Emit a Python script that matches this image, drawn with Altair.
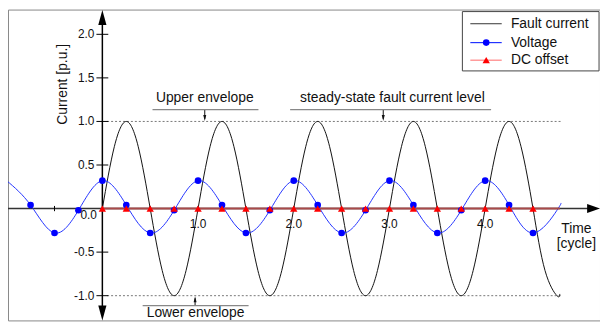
import altair as alt
import pandas as pd

# ---------------- data ----------------
series_names = ["Fault current", "Voltage", "DC offset"]

fault_t = [0.0, 0.125, 0.25, 0.375, 0.5, 0.625, 0.75, 0.875,
           1.0, 1.125, 1.25, 1.375, 1.5, 1.625, 1.75, 1.875,
           2.0, 2.125, 2.25, 2.375, 2.5, 2.625, 2.75, 2.875,
           3.0, 3.125, 3.25, 3.375, 3.5, 3.625, 3.75, 3.875,
           4.0, 4.125, 4.25, 4.375, 4.5, 4.625, 4.75, 4.78]
fault_v = [0, 0.71, 1, 0.71, 0, -0.71, -1, -0.71,
           0, 0.71, 1, 0.71, 0, -0.71, -1, -0.71,
           0, 0.71, 1, 0.71, 0, -0.71, -1, -0.71,
           0, 0.71, 1, 0.71, 0, -0.71, -1, -0.71,
           0, 0.71, 1, 0.71, 0, -0.71, -1, -0.98]

volt_t = [-1.0, -0.75, -0.5, -0.25, 0.0, 0.25, 0.5, 0.75, 1.0, 1.25, 1.5, 1.75,
          2.0, 2.25, 2.5, 2.75, 3.0, 3.25, 3.5, 3.75, 4.0, 4.25, 4.5, 4.75, 4.79]
volt_v = [0.32, 0.04, -0.28, -0.02, 0.32, 0.04, -0.28, -0.02, 0.32, 0.04, -0.28, -0.02,
          0.32, 0.04, -0.28, -0.02, 0.32, 0.04, -0.28, -0.02, 0.32, 0.04, -0.28, -0.02, 0.06]
volt_marker_t = [-0.75, -0.5, -0.25, 0.0, 0.25, 0.5, 0.75, 1.0, 1.25, 1.5, 1.75, 2.0,
                 2.25, 2.5, 2.75, 3.0, 3.25, 3.5, 3.75, 4.0, 4.25, 4.5]

dc_t = [0.0, 0.25, 0.5, 0.75, 1.0, 1.25, 1.5, 1.75, 2.0, 2.25, 2.5, 2.75,
        3.0, 3.25, 3.5, 3.75, 4.0, 4.25, 4.5]
dc_v = [0.0] * len(dc_t)
dc_line_t = [0.0, 4.78]
dc_line_v = [0.0, 0.0]

y_tick_values = [-1.0, -0.5, 0.5, 1.0, 1.5, 2.0]
y_tick_labels = ["-1.0", "-0.5", "0.5", "1.0", "1.5", "2.0"]
x_tick_values = [1.0, 2.0, 3.0, 4.0]
x_tick_labels = ["1.0", "2.0", "3.0", "4.0"]
x_zero_label = "0.0"
x_minor_ticks = [-0.5, 0.5, 1.0, 1.5, 2.0, 2.5, 3.0, 3.5, 4.0, 4.5]
envelope_levels = [1.0, -1.0]
annotation_labels = ["Upper envelope", "steady-state fault current level", "Lower envelope"]
x_title = ["Time", "[cycle]"]
y_title = "Current [p.u.]"

# ---------------- layout (data units) ----------------
X_MIN, X_MAX = -0.986, 5.2
Y_MIN, Y_MAX = -1.284, 2.284
FONT = "Liberation Sans"

xs = alt.Scale(domain=[X_MIN, X_MAX], nice=False, zero=False)
ys = alt.Scale(domain=[Y_MIN, Y_MAX], nice=False, zero=False)


def X(f="t"):
    return alt.X(f"{f}:Q", scale=xs, axis=None)


def Y(f="v"):
    return alt.Y(f"{f}:Q", scale=ys, axis=None)


layers = []

# dashed envelope lines
env = pd.DataFrame({"t": [0.05, 0.05], "t2": [4.796, 4.796], "v": envelope_levels})
layers.append(alt.Chart(env).mark_rule(color="#777", strokeWidth=1, strokeDash=[2, 2]).encode(
    x=X(), x2="t2:Q", y=Y()))

# axis lines
xa = pd.DataFrame({"t": [X_MIN], "t2": [5.1], "v": [0.0]})
layers.append(alt.Chart(xa).mark_rule(color="#333", strokeWidth=1.5).encode(x=X(), x2="t2:Q", y=Y()))
ya = pd.DataFrame({"t": [0.0], "v": [-1.17], "v2": [2.17]})
layers.append(alt.Chart(ya).mark_rule(color="#000", strokeWidth=1.5).encode(x=X(), y=Y(), y2="v2:Q"))

# axis arrowheads
arr_up = pd.DataFrame({"t": [0.0], "v": [2.193]})
layers.append(alt.Chart(arr_up).mark_point(shape="M0,-1L0.55,1L-0.55,1Z", filled=True, size=225,
                                           color="black", opacity=1).encode(x=X(), y=Y()))
arr_dn = pd.DataFrame({"t": [0.0], "v": [-1.199]})
layers.append(alt.Chart(arr_dn).mark_point(shape="M0,1L0.55,-1L-0.55,-1Z", filled=True, size=225,
                                           color="black", opacity=1).encode(x=X(), y=Y()))
arr_rt = pd.DataFrame({"t": [5.133], "v": [0.0]})
layers.append(alt.Chart(arr_rt).mark_point(shape="M1,0L-1,0.7L-1,-0.7Z", filled=True, size=169,
                                           color="black", opacity=1).encode(x=X(), y=Y()))

# y ticks
yt = pd.DataFrame({"t": [-0.062] * len(y_tick_values), "t2": [0.062] * len(y_tick_values),
                   "v": y_tick_values})
layers.append(alt.Chart(yt).mark_rule(color="black", strokeWidth=1).encode(x=X(), x2="t2:Q", y=Y()))
# x minor ticks
xt = pd.DataFrame({"t": x_minor_ticks, "v": [-0.03] * len(x_minor_ticks), "v2": [0.03] * len(x_minor_ticks)})
layers.append(alt.Chart(xt).mark_rule(color="black", strokeWidth=1).encode(x=X(), y=Y(), y2="v2:Q"))

# curves
fdf = pd.DataFrame({"t": fault_t, "v": fault_v})
layers.append(alt.Chart(fdf).mark_line(interpolate="natural", color="#111", strokeWidth=1, clip=True).encode(
    x=X(), y=Y()))
vdf = pd.DataFrame({"t": volt_t, "v": volt_v})
layers.append(alt.Chart(vdf).mark_line(interpolate="natural", color="#2233ff", strokeWidth=1, clip=True).encode(
    x=X(), y=Y()))
dldf = pd.DataFrame({"t": dc_line_t, "v": dc_line_v})
layers.append(alt.Chart(dldf).mark_line(color="#a84a4a", opacity=1, strokeWidth=2).encode(x=X(), y=Y()))

# markers
vm = vdf[vdf["t"].isin(volt_marker_t)]
layers.append(alt.Chart(vm).mark_circle(color="#0000ff", size=45, opacity=1).encode(x=X(), y=Y()))
dcdf = pd.DataFrame({"t": dc_t, "v": dc_v})
layers.append(alt.Chart(dcdf).mark_point(shape="triangle-up", filled=True, color="#ff0000", size=55,
                                         opacity=1).encode(x=X(), y=Y()))

# tick labels
layers.append(alt.Chart(pd.DataFrame({"t": [0.0] * len(y_tick_values), "v": y_tick_values,
                                      "label": y_tick_labels})).mark_text(
    font=FONT, fontSize=12, align="right", baseline="middle", dx=-8, color="#111").encode(
    x=X(), y=Y(), text="label:N"))
layers.append(alt.Chart(pd.DataFrame({"t": x_tick_values, "v": [-0.182] * len(x_tick_values),
                                      "label": x_tick_labels})).mark_text(
    font=FONT, fontSize=12, align="center", baseline="middle", color="#111").encode(
    x=X(), y=Y(), text="label:N"))
layers.append(alt.Chart(pd.DataFrame({"t": [-0.143], "v": [-0.08], "label": [x_zero_label]})).mark_text(
    font=FONT, fontSize=12, align="center", baseline="middle", color="#111").encode(
    x=X(), y=Y(), text="label:N"))

# axis titles
layers.append(alt.Chart(pd.DataFrame({"t": [4.953, 4.953], "v": [-0.276, -0.458], "label": x_title})).mark_text(
    font=FONT, fontSize=14, align="center", baseline="alphabetic", color="#111").encode(
    x=X(), y=Y(), text="label:N"))
layers.append(alt.Chart(pd.DataFrame({"t": [-0.365], "v": [1.426], "label": [y_title]})).mark_text(
    font=FONT, fontSize=14, align="center", baseline="alphabetic", angle=270, color="#111").encode(
    x=X(), y=Y(), text="label:N"))

# annotations
ann = pd.DataFrame({"t": [1.07, 3.031, 0.974], "v": [1.219, 1.219, -1.25], "label": annotation_labels})
layers.append(alt.Chart(ann).mark_text(font=FONT, fontSize=14, align="center", baseline="alphabetic",
                                       color="#111").encode(x=X(), y=Y(), text="label:N"))
und = pd.DataFrame({"t": [0.524, 1.962, 0.421], "t2": [1.631, 4.062, 1.528], "v": [1.136, 1.136, -1.114]})
layers.append(alt.Chart(und).mark_rule(color="#888", strokeWidth=1.2).encode(x=X(), x2="t2:Q", y=Y()))
ast = pd.DataFrame({"t": [1.07, 2.935, 0.969], "v": [1.13, 1.13, -1.108], "v2": [1.03, 1.03, -1.03]})
layers.append(alt.Chart(ast).mark_rule(color="#111", strokeWidth=1).encode(x=X(), y=Y(), y2="v2:Q"))
ahd = pd.DataFrame({"t": [1.07, 2.935], "v": [1.04, 1.04]})
layers.append(alt.Chart(ahd).mark_point(shape="M0,1L0.5,-1L-0.5,-1Z", filled=True, size=36, color="#111",
                                        opacity=1).encode(x=X(), y=Y()))
ahu = pd.DataFrame({"t": [0.969], "v": [-1.04]})
layers.append(alt.Chart(ahu).mark_point(shape="M0,-1L0.5,1L-0.5,1Z", filled=True, size=36, color="#111",
                                        opacity=1).encode(x=X(), y=Y()))

# legend (drawn through the same scales)
lbox = pd.DataFrame({"t": [3.762], "t2": [5.19], "v": [2.261], "v2": [1.58]})
layers.append(alt.Chart(lbox).mark_rect(fill="white", stroke="#444", strokeWidth=1).encode(
    x=X(), x2="t2:Q", y=Y(), y2="v2:Q"))
rows_v = [2.122, 1.905, 1.703]
leg_lines = pd.DataFrame({"t": [3.845] * 3, "t2": [4.173] * 3, "v": rows_v, "s": series_names})
layers.append(alt.Chart(leg_lines).mark_rule(strokeWidth=1.2).encode(
    x=X(), x2="t2:Q", y=Y(),
    color=alt.Color("s:N", scale=alt.Scale(domain=series_names, range=["#555", "#2233ff", "#ff8080"]),
                    legend=None)))
layers.append(alt.Chart(pd.DataFrame({"t": [4.011], "v": [rows_v[1]]})).mark_circle(
    color="#0000ff", size=45, opacity=1).encode(x=X(), y=Y()))
layers.append(alt.Chart(pd.DataFrame({"t": [4.011], "v": [rows_v[2]]})).mark_point(
    shape="triangle-up", filled=True, color="#ff0000", size=55, opacity=1).encode(x=X(), y=Y()))
layers.append(alt.Chart(pd.DataFrame({"t": [4.269] * 3, "v": rows_v, "label": series_names})).mark_text(
    font=FONT, fontSize=14, align="left", baseline="middle", color="#111").encode(
    x=X(), y=Y(), text="label:N"))

chart = alt.layer(*layers).properties(
    width=598, height=314, padding=0, autosize=alt.AutoSizeParams(type="none"),
    background="white"
).configure_view(stroke="#888", strokeWidth=1)

chart.save("out.html", embed_options={"renderer": "svg", "actions": False})
